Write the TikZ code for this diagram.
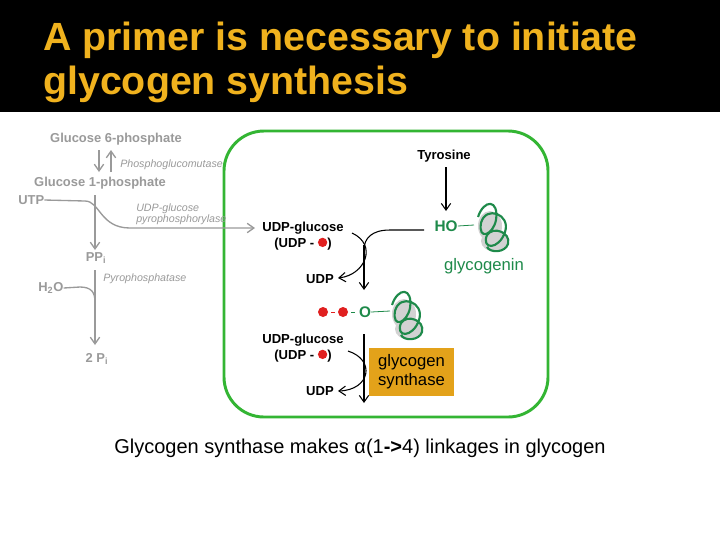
\documentclass[tikz,border=0pt]{standalone}
\usepackage{fontspec}
\setmainfont{Liberation Sans}
\usetikzlibrary{arrows.meta}
\definecolor{titleyel}{HTML}{F0B21E}
\definecolor{gbox}{HTML}{33B533}
\definecolor{gtxt}{HTML}{1E8A4A}
\definecolor{gry}{HTML}{9A9A9A}
\definecolor{orng}{HTML}{E3A21A}
\definecolor{rdot}{HTML}{E02020}
\tikzset{
 gl/.style={text=gry,font=\bfseries\fontsize{9.7}{10}\selectfont,inner sep=0pt},
 gi/.style={text=gry,font=\itshape\fontsize{8}{8.5}\selectfont,inner sep=0pt,anchor=west},
 bl/.style={font=\bfseries\fontsize{9.8}{11.5}\selectfont,inner sep=0pt},
 garr/.style={gry,line width=1pt,-{Straight Barb[length=5pt,width=7pt]}},
 barr/.style={black,line width=0.8pt,-{Straight Barb[length=5pt,width=7pt]}},
 dot/.style={circle,fill=rdot,inner sep=0pt,minimum size=7.5pt},
}
\newcommand{\prot}[1]{%
 \begin{scope}[shift={#1},scale=1.5]
  \fill[gray!35] (0,4) ellipse (8 and 10);
  \fill[gray!35] (3,14) ellipse (9 and 7);
  \draw[gtxt,line width=1.6pt] (-8,-2) .. controls (-4,-14) and (6,-14) .. (4,0) .. controls (2,10) and (-8,14) .. (-6,2) .. controls (-3,-10) and (14,-4) .. (10,8) .. controls (6,20) and (-6,20) .. (-2,10) .. controls (2,4) and (14,8) .. (12,16) .. controls (10,22) and (0,22) .. (-2,18);
 \end{scope}}
\begin{document}
\begin{tikzpicture}[x=0.75pt,y=-0.75pt]
\fill[white] (0,0) rectangle (720,540);
\fill[black] (0,0) rectangle (720,112);
\node[anchor=north west,text=titleyel,font=\bfseries\fontsize{29.5}{33}\selectfont,align=left,inner sep=0pt] (title) at (43,22) {A primer is necessary to initiate\\glycogen synthesis};
% green box
\draw[gbox,line width=2.2pt,rounded corners=30pt] (224,131) rectangle (548,417);
% gray pathway
\node[gl] (g6p) at (116,139) {Glucose 6-phosphate};
\node[gl] (g1p) at (100,183) {Glucose 1-phosphate};
\draw[garr] (99,150) -- (99,172);
\draw[garr] (111,172) -- (111,150);
\node[gi] (pgm) at (120,165) {Phosphoglucomutase};
\node[gl,anchor=west] (utp) at (18,200) {UTP};
\node[gi,align=left] (ugp) at (136,214) {UDP-glucose\\pyrophosphorylase};
\draw[garr] (utp.east) -- (85,201) .. controls (100,201) and (100,228) .. (130,228) -- (255,228);
\draw[garr] (95,195) -- (95,250);
\node[gl] (ppi) at (96,258) {PP\textsubscript{i}};
\node[gi] (pp) at (103,279) {Pyrophosphatase};
\node[gl,anchor=west] (h2o) at (38,288) {H\textsubscript{2}O};
\draw[gry,line width=1pt] (h2o.east) -- (80,287) .. controls (92,287) and (95,293) .. (95,302);
\draw[garr] (95,270) -- (95,345);
\node[gl] (pi) at (97,359) {2 P\textsubscript{i}};
% black part
\node[bl] (tyr) at (444,156) {Tyrosine};
\draw[barr] (446,167) -- (446,211);
\node[text=gtxt,font=\bfseries\fontsize{11.5}{12}\selectfont,inner sep=0pt] (ho) at (446,226) {HO};
\draw[gtxt,line width=0.6pt] (ho.east) -- (474,225);
\prot{(490,220)}
\node[text=gtxt,font=\fontsize{12.5}{14}\selectfont,inner sep=0pt] (gly) at (484,266) {glycogenin};
\node[bl,align=center] (udpg1) at (303,236) {UDP-glucose\\(UDP - \tikz\fill[rdot] (0,0) circle (3.5pt);)};
\draw[black,line width=0.8pt] (424,230) -- (390,230) .. controls (372,230) and (364,238) .. (364,250);
\draw[barr] (364,245) -- (364,290);
\draw[barr] (352,233) .. controls (378,245) and (365,275) .. (338,278);
\node[bl] (udp1) at (320,279) {UDP};
\node[dot] (d1) at (323,312) {};
\node[dot] (d2) at (343,312) {};
\draw[rdot,line width=0.7pt] (331,312) -- (335,312);
\draw[gtxt,line width=0.7pt] (351,312) -- (355,312);
\node[text=gtxt,font=\bfseries\fontsize{11.5}{12}\selectfont,inner sep=0pt] (o) at (365,312) {O};
\draw[gtxt,line width=0.6pt] (o.east) -- (390,311);
\prot{(404,308)}
\node[bl,align=center] (udpg2) at (303,348) {UDP-glucose\\(UDP - \tikz\fill[rdot] (0,0) circle (3.5pt);)};
\draw[barr] (364,334) -- (364,403);
\draw[barr] (348,351) .. controls (376,360) and (370,390) .. (338,391);
\node[bl] (udp2) at (320,391) {UDP};
\node[fill=orng,minimum width=63.75pt,minimum height=36pt,align=center,font=\fontsize{12.5}{14}\selectfont,inner sep=0pt] (gs) at (411.5,372) {glycogen\\synthase};
\node[font=\fontsize{15}{17}\selectfont,inner sep=0pt] (cap) at (360,448) {Glycogen synthase makes α(1\textbf{->}4) linkages in glycogen};
\end{tikzpicture}
\end{document}
